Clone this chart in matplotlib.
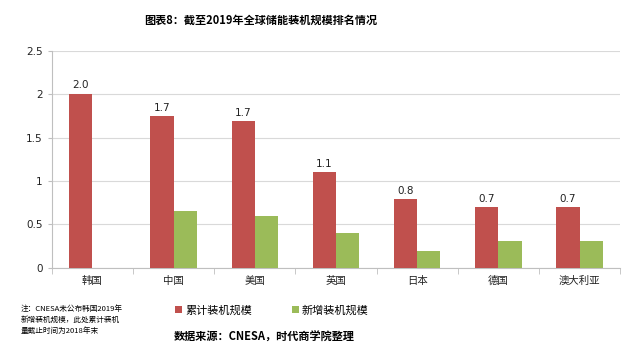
import numpy as np
import matplotlib.pyplot as plt

plt.rcParams['font.family'] = ['Noto Sans CJK SC', 'DejaVu Sans']

countries = ['韩国', '中国', '美国', '英国', '日本', '德国', '澳大利亚']
cumulative = [2.01, 1.75, 1.69, 1.10, 0.79, 0.70, 0.70]
new_added = [0.0, 0.65, 0.60, 0.40, 0.20, 0.31, 0.31]
value_labels = ['2.0', '1.7', '1.7', '1.1', '0.8', '0.7', '0.7']

red = '#C0504D'
green = '#9BBB59'

fig = plt.figure(figsize=(6.4, 3.6), dpi=100)
ax = fig.add_axes([0.081, 0.256, 0.888, 0.602])

x = np.arange(len(countries))
w = 0.285
ax.bar(x - w / 2, cumulative, width=w, color=red, label='累计装机规模', zorder=3)
ax.bar(x + w / 2, new_added, width=w, color=green, label='新增装机规模', zorder=3)

for xi, v, lab in zip(x, cumulative, value_labels):
    ax.text(xi - w / 2, v + 0.04, lab, ha='center', va='bottom', fontsize=7.5,
            family='DejaVu Sans', color='#222222')

ax.set_xlim(-0.5, len(countries) - 0.5)
ax.set_ylim(0, 2.5)
ax.set_yticks([0, 0.5, 1, 1.5, 2, 2.5])
ax.set_yticklabels(['0', '0.5', '1', '1.5', '2', '2.5'], family='DejaVu Sans')
ax.yaxis.grid(True, color='#D9D9D9', linewidth=0.8, zorder=0)
ax.set_xticks(x)
ax.set_xticklabels(countries)
ax.set_xticks(np.arange(-0.5, len(countries)), minor=True)
ax.tick_params(axis='x', which='major', length=0, labelsize=7.5, pad=6, colors='#222222')
ax.tick_params(axis='x', which='minor', length=4, color='#BFBFBF')
ax.tick_params(axis='y', length=3, color='#BFBFBF', labelsize=7.5, colors='#222222')
for s in ['top', 'right']:
    ax.spines[s].set_visible(False)
for s in ['left', 'bottom']:
    ax.spines[s].set_color('#BFBFBF')

fig.text(0.408, 0.943, '图表8：截至2019年全球储能装机规模排名情况', ha='center', va='center',
         fontsize=8, fontweight='bold')

fig.legend(loc='center left', bbox_to_anchor=(0.258, 0.138), ncol=2, frameon=False,
           fontsize=8, handlelength=0.6, handleheight=0.6, handletextpad=0.3,
           columnspacing=3.6)

fig.text(0.033, 0.112, '注：CNESA未公布韩国2019年\n新增装机规模，此处累计装机\n量截止时间为2018年末',
         ha='left', va='center', fontsize=5.5, linespacing=1.45)
fig.text(0.272, 0.064, '数据来源：CNESA，时代商学院整理', ha='left', va='center',
         fontsize=8, fontweight='bold')

fig.savefig('out.png', dpi=100)
